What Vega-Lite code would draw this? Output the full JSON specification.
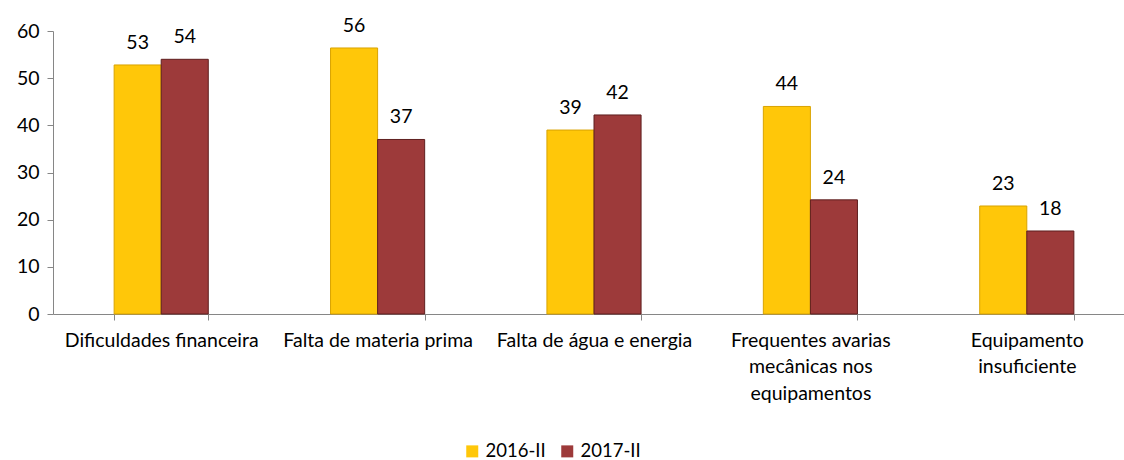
{
  "$schema": "https://vega.github.io/schema/vega-lite/v6.json",
  "autosize": "none",
  "width": 1082,
  "height": 283,
  "padding": {"left": 53, "top": 31, "right": 0, "bottom": 146},
  "background": "white",
  "config": {
    "view": {"stroke": null},
    "font": "Lato",
    "axis": {"labelFont": "Lato", "labelFontSize": 19.5, "labelColor": "#000", "domainColor": "#868686", "tickColor": "#868686", "grid": false, "title": null}
  },
  "data": {
    "values": [
      {"cat": "Dificuldades financeira", "periodo": "2016-II", "valor": 52.8},
      {"cat": "Dificuldades financeira", "periodo": "2017-II", "valor": 54.0},
      {"cat": "Falta de materia prima", "periodo": "2016-II", "valor": 56.4},
      {"cat": "Falta de materia prima", "periodo": "2017-II", "valor": 37.0},
      {"cat": "Falta de água e energia", "periodo": "2016-II", "valor": 39.0},
      {"cat": "Falta de água e energia", "periodo": "2017-II", "valor": 42.2},
      {"cat": "Frequentes avarias mecânicas nos equipamentos", "periodo": "2016-II", "valor": 44.0},
      {"cat": "Frequentes avarias mecânicas nos equipamentos", "periodo": "2017-II", "valor": 24.2},
      {"cat": "Equipamento insuficiente", "periodo": "2016-II", "valor": 22.9},
      {"cat": "Equipamento insuficiente", "periodo": "2017-II", "valor": 17.6}
    ]
  },
  "encoding": {
    "x": {
      "field": "cat", "type": "nominal", "sort": null,
      "scale": {"paddingInner": 0.565, "paddingOuter": 0.2825},
      "axis": {
        "labelAngle": 0, "tickBand": "extent", "tickSize": 6, "labelPadding": 11,
        "labelLineHeight": 26.5, "labelBaseline": "top", "labelLimit": 0,
        "labelExpr": "datum.value == 'Frequentes avarias mecânicas nos equipamentos' ? ['Frequentes avarias', 'mecânicas nos', 'equipamentos'] : datum.value == 'Equipamento insuficiente' ? ['Equipamento', 'insuficiente'] : datum.value"
      }
    },
    "xOffset": {"field": "periodo", "type": "nominal", "scale": {"paddingInner": 0, "paddingOuter": 0}},
    "y": {
      "field": "valor", "type": "quantitative",
      "scale": {"domain": [0, 60], "nice": false},
      "axis": {"values": [0, 10, 20, 30, 40, 50, 60], "tickSize": 6, "labelPadding": 8}
    }
  },
  "layer": [
    {
      "mark": {"type": "bar", "strokeWidth": 1},
      "encoding": {
        "color": {
          "field": "periodo", "type": "nominal",
          "scale": {"domain": ["2016-II", "2017-II"], "range": ["#FFC709", "#9D3A3A"]},
          "legend": {
            "title": null, "orient": "none", "direction": "horizontal",
            "legendX": 410, "legendY": 411, "symbolType": "square", "symbolSize": 144,
            "labelFontSize": 18.5, "labelFont": "Lato", "labelColor": "#000", "columnPadding": 12, "labelOffset": 4,
            "symbolStrokeWidth": 0
          }
        },
        "stroke": {
          "field": "periodo", "type": "nominal",
          "scale": {"domain": ["2016-II", "2017-II"], "range": ["#D9A300", "#5E1F1F"]},
          "legend": null
        }
      }
    },
    {
      "mark": {"type": "text", "baseline": "middle", "dy": -22, "fontSize": 19.5, "color": "#000"},
      "encoding": {
        "text": {"field": "valor", "type": "quantitative", "format": ".0f"}
      }
    }
  ]
}
